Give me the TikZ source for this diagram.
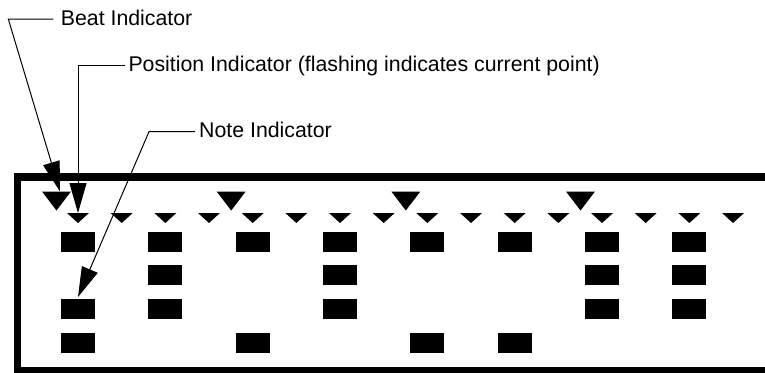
\documentclass[tikz,border=0pt]{standalone}
\usepackage{fontspec}
\setmainfont{Liberation Sans}
\usepackage{tikz}
\usetikzlibrary{arrows.meta}
\tikzstyle{annot} = [anchor=west, inner sep=0pt, text height=15pt, text depth=3pt, font=\fontsize{21.3}{25}\selectfont]
\tikzstyle{noteblock} = [rectangle, fill, inner sep=0pt, minimum width=34pt, minimum height=20pt]
\tikzstyle{pointer} = [draw, line width=1pt, -{Triangle[length=30pt, width=17pt]}]
\tikzstyle{boundingframe} = [line width=7.5pt]

\begin{document}
\begin{tikzpicture}[x=1pt, y=-1pt]
    \clip (0, 0) rectangle (765, 372);
    
    % frame, open on the right
    \draw[boundingframe] (780, 177) -- (17.5, 177) -- (17.5, 370.5) -- (780, 370.5);
    
    % beat indicators
    \foreach \k in {0,...,3} {
        \fill ({56.5+174.67*\k-14.5}, 191.5) -- ++(29, 0) -- ++(-14.5, 19) -- cycle;
        \coordinate (beat\k) at ({56.5+174.67*\k}, 191.5);
    }
    
    % position indicators
    \foreach \i in {0,...,15} {
        \fill ({78+43.67*\i-11}, 213) -- ++(22, 0) -- ++(-11, 10) -- cycle;
        \coordinate (pos\i) at ({78+43.67*\i}, 213);
    }
    
    % notes
    \foreach \c/\rows in {0/{1,3,4}, 1/{1,2,3}, 2/{1,4}, 3/{1,2,3}, 4/{1,4}, 5/{1,4}, 6/{1,2,3}, 7/{1,2,3}} {
        \foreach \r in \rows {
            \node[noteblock] (note\c\r) at ({78+87.33*\c}, {241.7+33.75*(\r-1)}) {};
        }
    }
    
    \node[annot] (beatlbl) at (60.7, 19) {Beat Indicator};
    \node[annot] (poslbl) at (128.3, 65) {Position Indicator (flashing indicates current point)};
    \node[annot] (notelbl) at (199, 131.7) {Note Indicator};
    
    \path[pointer] ([xshift=-7.4pt]beatlbl.west) -- ++(-45, 0) -- ([xshift=3.5pt]beat0);
    \path[pointer] ([xshift=-3.3pt]poslbl.west) -| (pos0);
    \path[pointer] ([xshift=-4pt]notelbl.west) -- ++(-46, 0) -- ([yshift=2pt]note03.north);
    
\end{tikzpicture}
\end{document}
